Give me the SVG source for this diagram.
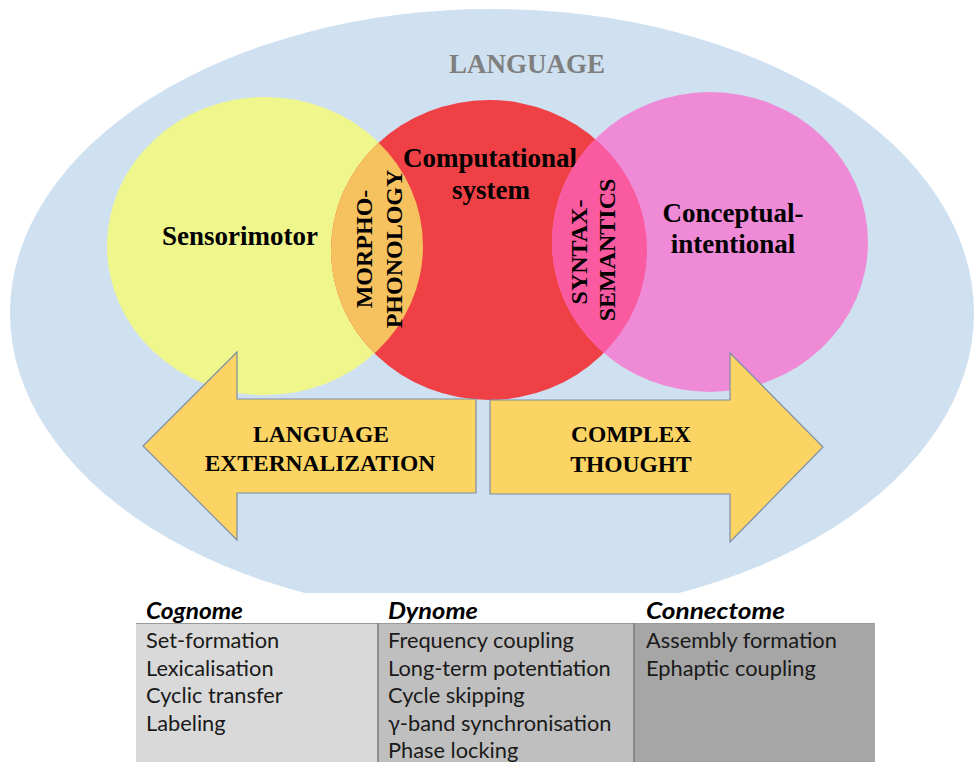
<svg xmlns="http://www.w3.org/2000/svg" width="974" height="762" viewBox="0 0 974 762">
<style>
.lbl{font-family:"Liberation Serif","Times New Roman",serif;font-weight:bold;fill:#000;text-anchor:middle}
.tb{font-family:Lato,"Noto Sans",sans-serif;font-size:21.8px;fill:#1a1a1a}
.th{font-family:Lato,"Noto Sans",sans-serif;font-size:22px;font-weight:bold;font-style:italic;fill:#000}
.arrow{fill:#fcd463;stroke:#7d8ea8;stroke-width:1.2}
</style>
<defs>
<clipPath id="clipRed"><ellipse cx="489" cy="250" rx="158" ry="150"/></clipPath>
</defs>
<rect width="974" height="762" fill="#fff"/>
<g id="language">
<ellipse cx="492" cy="313" rx="482" ry="304" fill="#cfe0f0"/>
<text class="lbl" x="527" y="73" font-size="27" style="fill:#7f7f7f">LANGUAGE</text>
</g>
<g id="sensorimotor">
<ellipse cx="265" cy="246" rx="158" ry="149" fill="#eff68c"/>
<text class="lbl" x="240" y="245" font-size="27">Sensorimotor</text>
</g>
<g id="computational">
<ellipse cx="489" cy="250" rx="158" ry="150" fill="#ef4046"/>
<text class="lbl" x="490" y="167" font-size="27">Computational</text>
<text class="lbl" x="491" y="199" font-size="27">system</text>
</g>
<g id="conceptual">
<ellipse cx="710" cy="242" rx="158" ry="150" fill="#ef8bd6"/>
<text class="lbl" x="733" y="222" font-size="27">Conceptual-</text>
<text class="lbl" x="733" y="253" font-size="27">intentional</text>
</g>
<g id="morphophonology">
<ellipse cx="265" cy="246" rx="158" ry="149" fill="#f6c15f" clip-path="url(#clipRed)"/>
<text class="lbl" font-size="24" transform="translate(372,249) rotate(-90)">MORPHO-</text>
<text class="lbl" font-size="24" transform="translate(402,249) rotate(-90)">PHONOLOGY</text>
</g>
<g id="syntaxsemantics">
<ellipse cx="710" cy="242" rx="158" ry="150" fill="#f95aa0" clip-path="url(#clipRed)"/>
<text class="lbl" font-size="24" transform="translate(587,252) rotate(-90)">SYNTAX-</text>
<text class="lbl" font-size="24" transform="translate(615,250) rotate(-90)">SEMANTICS</text>
</g>
<g id="connectors">
<g id="externalization">
<polygon class="arrow" points="143,446 237,352 237,399 476,399 476,493 237,493 237,540"/>
<text class="lbl" x="321" y="442" font-size="23.5">LANGUAGE</text>
<text class="lbl" x="320" y="471" font-size="23.5">EXTERNALIZATION</text>
</g>
<g id="thought">
<polygon class="arrow" points="490,400 730,400 730,353 823,447 730,542 730,494 490,494"/>
<text class="lbl" x="631" y="442" font-size="23.5">COMPLEX</text>
<text class="lbl" x="631" y="472" font-size="23.5">THOUGHT</text>
</g>
</g>
<g id="table">
<rect x="136" y="593" width="739" height="30" fill="#fff"/>
<rect x="136" y="623" width="242" height="139" fill="#d9d9d9"/>
<rect x="378" y="623" width="256" height="139" fill="#bfbfbf"/>
<rect x="634" y="623" width="241" height="139" fill="#a6a6a6"/>
<line x1="136" y1="623.5" x2="875" y2="623.5" stroke="#9a9a9a" stroke-width="1"/>
<line x1="378" y1="623" x2="378" y2="762" stroke="#7a7a7a" stroke-width="1.5"/>
<line x1="634" y1="623" x2="634" y2="762" stroke="#7a7a7a" stroke-width="1.5"/>
<text class="th" x="146" y="619" textLength="97" lengthAdjust="spacingAndGlyphs">Cognome</text>
<text class="th" x="388" y="619" textLength="90" lengthAdjust="spacingAndGlyphs">Dynome</text>
<text class="th" x="646" y="619" textLength="139" lengthAdjust="spacingAndGlyphs">Connectome</text>
<text class="tb" x="146" y="648">Set-formation</text>
<text class="tb" x="146" y="675.5">Lexicalisation</text>
<text class="tb" x="146" y="703">Cyclic transfer</text>
<text class="tb" x="146" y="730.5">Labeling</text>
<text class="tb" x="388" y="648">Frequency coupling</text>
<text class="tb" x="388" y="675.5">Long-term potentiation</text>
<text class="tb" x="388" y="703">Cycle skipping</text>
<text class="tb" x="388" y="730.5">γ-band synchronisation</text>
<text class="tb" x="388" y="758">Phase locking</text>
<text class="tb" x="646" y="648">Assembly formation</text>
<text class="tb" x="646" y="675.5">Ephaptic coupling</text>
</g>
</svg>
